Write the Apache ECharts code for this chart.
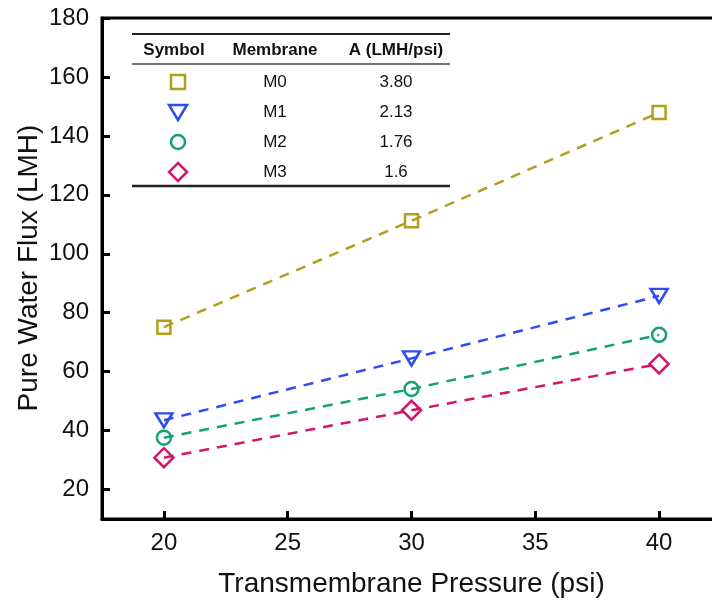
<!DOCTYPE html>
<html>
<head>
<meta charset="utf-8">
<script src="https://cdn.jsdelivr.net/npm/echarts@6/dist/echarts.min.js"></script>
<style>
  html, body { margin: 0; padding: 0; background: #fff; }
  #chart { width: 712px; height: 603px; }
</style>
</head>
<body>
<div id="chart"></div>
<script>
// data
const pressure = [20, 30, 40]
const fluxM0 = [75.1, 111.2, 147.9]
const fluxM1 = [43.5, 64.5, 85.7]
const fluxM2 = [37.6, 54.1, 72.5]
const fluxM3 = [30.8, 46.9, 62.6]

const membranes = ['M0', 'M1', 'M2', 'M3']
const permeability = ['3.80', '2.13', '1.76', '1.6']

const xTicks = [20, 25, 30, 35, 40]
const yTicks = [20, 40, 60, 80, 100, 120, 140, 160, 180]

const colors = ['#b0a11c', '#2f4bf2', '#12a370', '#d3156e']
const font = 'Liberation Sans, Arial, sans-serif'

const chart = echarts.init(document.getElementById('chart'))

function pairs (ys) {
  return pressure.map((x, i) => [x, ys[i]])
}

const markers = [
  { symbol: 'rect', size: 13, rotate: 0 },
  { symbol: 'triangle', size: [17, 14], rotate: 180 },
  { symbol: 'circle', size: 14, rotate: 0 },
  { symbol: 'diamond', size: [19, 19], rotate: 0 }
]

const seriesData = [fluxM0, fluxM1, fluxM2, fluxM3]

const series = seriesData.map((ys, i) => ({
  name: membranes[i],
  type: 'line',
  data: pairs(ys),
  symbol: markers[i].symbol,
  symbolSize: markers[i].size,
  symbolRotate: markers[i].rotate,
  showAllSymbol: true,
  lineStyle: { color: colors[i], width: 2.5, type: [10, 8] },
  itemStyle: { color: 'rgba(0,0,0,0)', borderColor: colors[i], borderWidth: 2.5 },
  emphasis: { disabled: true },
  animation: false
}))

// table-style legend in the upper left
const tLeft = 132
const tRight = 450
const rowY = [82, 112, 142, 172]
const graphics = [
  { type: 'line', shape: { x1: tLeft, y1: 34, x2: tRight, y2: 34 }, style: { stroke: '#222', lineWidth: 2 } },
  { type: 'line', shape: { x1: tLeft, y1: 64, x2: tRight, y2: 64 }, style: { stroke: '#444', lineWidth: 1.5 } },
  { type: 'line', shape: { x1: tLeft, y1: 186, x2: tRight, y2: 186 }, style: { stroke: '#222', lineWidth: 2.5 } }
]
const headers = [['Symbol', 174], ['Membrane', 275], ['A (LMH/psi)', 396]]
headers.forEach(h => {
  graphics.push({
    type: 'text', x: h[1], y: 50,
    style: { text: h[0], font: 'bold 17px ' + font, fill: '#111', align: 'center', verticalAlign: 'middle' }
  })
})
membranes.forEach((m, i) => {
  graphics.push({
    type: 'text', x: 275, y: rowY[i],
    style: { text: m, font: '17px ' + font, fill: '#111', align: 'center', verticalAlign: 'middle' }
  })
  graphics.push({
    type: 'text', x: 396, y: rowY[i],
    style: { text: permeability[i], font: '17px ' + font, fill: '#111', align: 'center', verticalAlign: 'middle' }
  })
})
const sx = 178
const symStyle = (c) => ({ fill: 'none', stroke: c, lineWidth: 2.5 })
graphics.push({ type: 'rect', shape: { x: sx - 7, y: rowY[0] - 7, width: 14, height: 14 }, style: symStyle(colors[0]) })
graphics.push({ type: 'polygon', shape: { points: [[sx - 9, rowY[1] - 7], [sx + 9, rowY[1] - 7], [sx, rowY[1] + 8]] }, style: symStyle(colors[1]) })
graphics.push({ type: 'circle', shape: { cx: sx, cy: rowY[2], r: 7 }, style: symStyle(colors[2]) })
graphics.push({ type: 'polygon', shape: { points: [[sx, rowY[3] - 9], [sx + 9, rowY[3]], [sx, rowY[3] + 9], [sx - 9, rowY[3]]] }, style: symStyle(colors[3]) })

// rotated y axis title
graphics.push({
  type: 'text', x: 29, y: 268, rotation: Math.PI / 2,
  style: { text: 'Pure Water Flux (LMH)', font: '28px ' + font, fill: '#111', align: 'center', verticalAlign: 'middle' }
})

const option = {
  backgroundColor: '#fff',
  animation: false,
  grid: {
    left: 102, width: 619, top: 18, height: 501,
    outerBoundsMode: 'none',
    show: true, borderColor: '#000', borderWidth: 3, backgroundColor: 'transparent'
  },
  xAxis: {
    type: 'value',
    min: 17.5,
    max: 42.5,
    name: 'Transmembrane Pressure (psi)',
    nameLocation: 'middle',
    nameGap: 51,
    nameTextStyle: { fontFamily: font, fontSize: 28, color: '#111' },
    axisLine: { show: true, lineStyle: { color: '#000', width: 3 } },
    axisTick: { show: true, inside: true, length: 8, lineStyle: { color: '#000', width: 3 }, customValues: xTicks },
    axisLabel: { fontFamily: font, fontSize: 24, color: '#111', margin: 12, customValues: xTicks },
    splitLine: { show: false }
  },
  yAxis: {
    type: 'value',
    min: 10,
    max: 180,
    axisLine: { show: true, lineStyle: { color: '#000', width: 3 } },
    axisTick: { show: true, inside: true, length: 8, lineStyle: { color: '#000', width: 3 }, customValues: yTicks },
    axisLabel: { fontFamily: font, fontSize: 24, color: '#111', margin: 13, customValues: yTicks },
    splitLine: { show: false }
  },
  graphic: graphics,
  series: series
}

chart.setOption(option)
</script>
</body>
</html>
